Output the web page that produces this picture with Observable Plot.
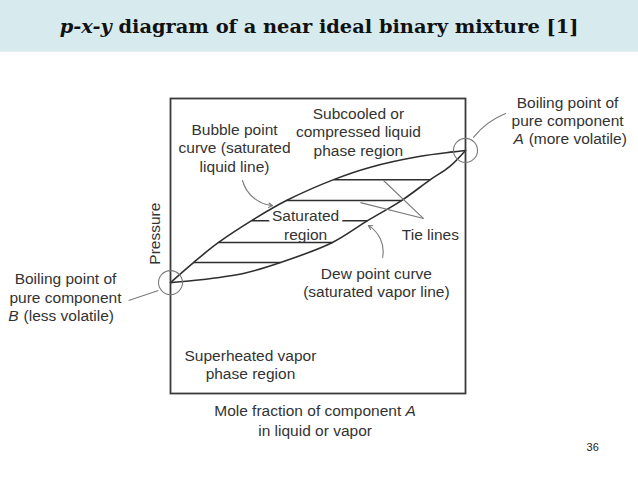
<!DOCTYPE html>
<html><head><meta charset="utf-8">
<script src="https://cdn.jsdelivr.net/npm/d3@7"></script>
<script src="https://cdn.jsdelivr.net/npm/@observablehq/plot@0.6"></script>
<style>
body{margin:0;background:#fff;width:638px;height:479px;overflow:hidden}
#banner{height:52px;background:#d7eaee;position:relative;border-bottom:1px solid #e3eff1;box-sizing:border-box}
#title{position:absolute;left:0;right:0;top:19px;text-align:center;font-family:"DejaVu Serif",Georgia,serif;font-weight:bold;color:#111;font-size:17px;white-space:nowrap;line-height:1}
</style></head><body>
<div id="banner"><div id="title"><span id="t"><i>p-x-y</i> diagram of a near ideal binary mixture [1]</span></div></div>
<div id="chart"></div>
<script>
// Bubble point curve (saturated liquid line): mole fraction of A vs relative pressure
const bubbleX = [0, 0.078, 0.163, 0.275, 0.393, 0.553, 0.678, 0.847, 0.959, 1];
const bubbleP = [0.376, 0.444, 0.512, 0.586, 0.654, 0.725, 0.767, 0.804, 0.819, 0.824];
// Dew point curve (saturated vapor line)
const dewX = [0, 0.078, 0.247, 0.373, 0.549, 0.668, 0.783, 0.881, 0.946, 1];
const dewP = [0.376, 0.383, 0.407, 0.444, 0.512, 0.586, 0.654, 0.725, 0.769, 0.824];
// Tie lines
const tieP = [0.444, 0.512, 0.586, 0.654, 0.725];
const tieLiquidX = [0.078, 0.163, 0.275, 0.393, 0.553];
const tieVaporX = [0.373, 0.549, 0.668, 0.783, 0.881];

// Annotation texts and their anchors (data units)
const plainLabels = [
  {text: "Subcooled or\ncompressed liquid\nphase region", x: 0.637, y: 0.888},
  {text: "Bubble point\ncurve (saturated\nliquid line)", x: 0.217, y: 0.834},
  {text: "region", x: 0.458, y: 0.542},
  {text: "Tie lines", x: 0.881, y: 0.542},
  {text: "Dew point curve\n(saturated vapor line)", x: 0.698, y: 0.378},
  {text: "Boiling point of\npure component", x: -0.356, y: 0.359},
  {text: "Boiling point of\npure component", x: 1.346, y: 0.958},
  {text: "Superheated vapor\nphase region", x: 0.271, y: 0.1},
  {text: "in liquid or vapor", x: 0.49, y: -0.125}
];
const haloLabels = [{text: "Saturated", x: 0.458, y: 0.603}];
const startLabels = [
  {text: "(less volatile)", x: -0.498, y: 0.264},
  {text: "(more volatile)", x: 1.214, y: 0.861}
];
const italicLabels = [
  {text: "B", x: -0.55, y: 0.264},
  {text: "A", x: 1.163, y: 0.861},
  {text: "A", x: 0.797, y: -0.058}
];
const endLabels = [{text: "Mole fraction of component", x: 0.782, y: -0.058}];
const axisLabel = [{text: "Pressure", x: -0.051, y: 0.542}];
const pageNumber = [{text: "36", x: 1.431, y: -0.183}];

// Leader lines and arrows (data units)
const straightLeaders = [
  {x1: -0.142, y1: 0.315, x2: -0.041, y2: 0.349},
  {x1: 0.858, y1: 0.593, x2: 0.722, y2: 0.722},
  {x1: 0.858, y1: 0.593, x2: 0.644, y2: 0.647}
];
const curvedLeaders = [{x1: 1.027, y1: 0.868, x2: 1.136, y2: 0.949}];
const arrows = [
  {x1: 0.244, y1: 0.722, x2: 0.346, y2: 0.637},
  {x1: 0.719, y1: 0.461, x2: 0.671, y2: 0.569}
];

const bubble = bubbleX.map((x, i) => ({x, p: bubbleP[i]}));
const dew = dewX.map((x, i) => ({x, p: dewP[i]}));
const ties = tieP.map((p, i) => ({p, xl: tieLiquidX[i], xv: tieVaporX[i]}));
const pureEnds = [bubble[0], bubble[bubble.length - 1]];

const ink = "#2e2e2e";
const textInk = "#333";
const thin = "#7a7a7a";

const chart = Plot.plot({
  width: 638, height: 427,
  marginLeft: 170, marginRight: 173, marginTop: 46, marginBottom: 86,
  x: {domain: [0, 1], axis: null},
  y: {domain: [0, 1], axis: null},
  style: {fontFamily: "'Liberation Sans', Arial, sans-serif", fontSize: "15.5px", color: textInk, background: "white", overflow: "visible"},
  marks: [
    Plot.link(ties, {x1: "xl", x2: "xv", y1: "p", y2: "p", stroke: ink, strokeWidth: 1.5}),
    Plot.text(haloLabels, {x: "x", y: "y", text: "text", fill: textInk, stroke: "white", strokeWidth: 8, fontSize: 15.5}),
    Plot.line(bubble, {x: "x", y: "p", curve: "catmull-rom", stroke: ink, strokeWidth: 1.6}),
    Plot.line(dew, {x: "x", y: "p", curve: "catmull-rom", stroke: ink, strokeWidth: 1.6}),
    Plot.frame({stroke: "#3a3a3a", strokeWidth: 1.8}),
    Plot.dot(pureEnds, {x: "x", y: "p", r: 12, stroke: thin, fill: "none", strokeWidth: 1.1}),
    Plot.link(straightLeaders, {x1: "x1", y1: "y1", x2: "x2", y2: "y2", stroke: thin, strokeWidth: 1.1}),
    Plot.arrow(curvedLeaders, {x1: "x1", y1: "y1", x2: "x2", y2: "y2", bend: 15, headLength: 0, stroke: thin, strokeWidth: 1.1}),
    Plot.arrow(arrows, {x1: "x1", y1: "y1", x2: "x2", y2: "y2", bend: -35, headLength: 6, stroke: thin, strokeWidth: 1.1}),
    Plot.text(plainLabels, {x: "x", y: "y", text: "text", fill: textInk, lineHeight: 1.2, fontSize: 15.5}),
    Plot.text(startLabels, {x: "x", y: "y", text: "text", fill: textInk, textAnchor: "start", fontSize: 15.5}),
    Plot.text(endLabels, {x: "x", y: "y", text: "text", fill: textInk, textAnchor: "end", fontSize: 15.5}),
    Plot.text(italicLabels, {x: "x", y: "y", text: "text", fill: textInk, textAnchor: "start", fontStyle: "italic", fontSize: 15.5}),
    Plot.text(axisLabel, {x: "x", y: "y", text: "text", fill: textInk, rotate: -90, fontSize: 15.5}),
    Plot.text(pageNumber, {x: "x", y: "y", text: "text", fill: "#222", fontSize: 11})
  ]
});
document.getElementById("chart").appendChild(chart);

// fit title width to the slide's title span
const t = document.getElementById("t");
const w = t.getBoundingClientRect().width;
const fs = 17 * 519 / w;
document.getElementById("title").style.fontSize = fs + "px";
document.getElementById("title").style.top = (33 - 0.846 * fs) + "px";
</script>
</body></html>
